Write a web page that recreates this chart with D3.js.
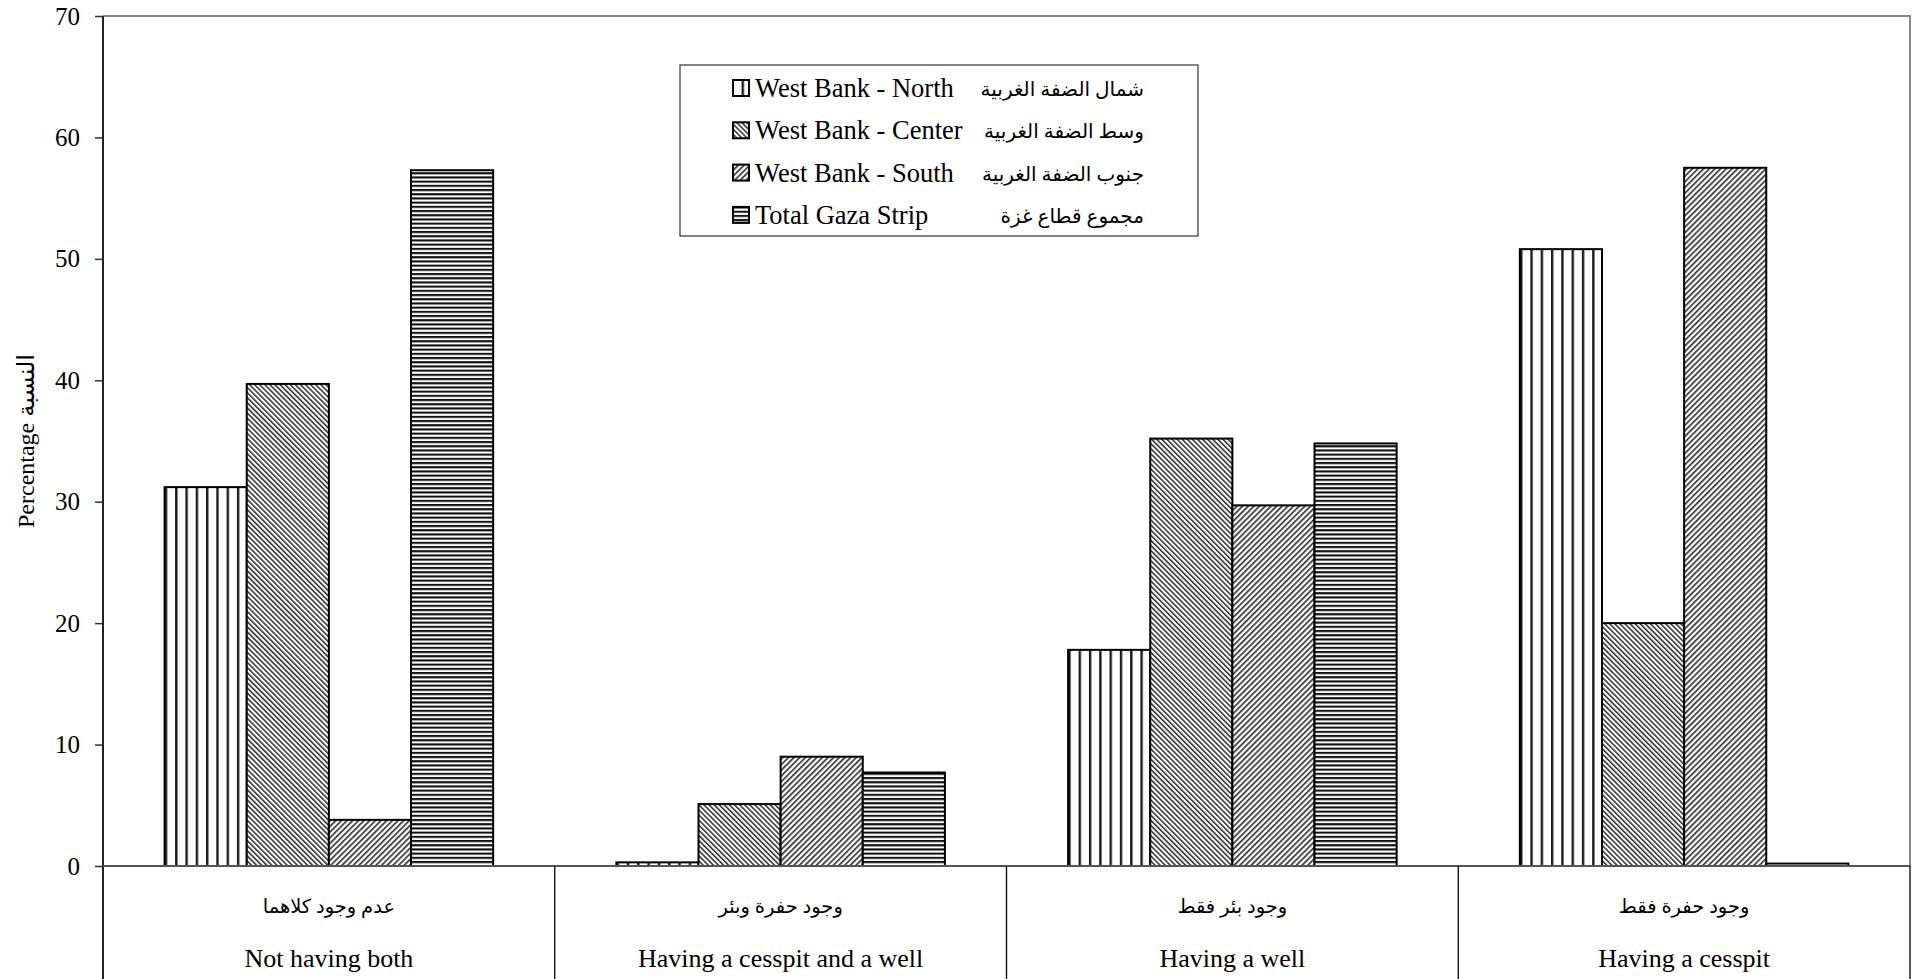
<!DOCTYPE html>
<html>
<head>
<meta charset="utf-8">
<script src="https://cdn.jsdelivr.net/npm/d3@7/dist/d3.min.js"></script>
<style>
  html, body { margin: 0; padding: 0; background: #fff; }
  svg { display: block; }
  text { font-family: "Liberation Serif", "Times New Roman", "DejaVu Sans", serif; fill: #000; }
</style>
</head>
<body>
<svg id="chart" width="1925" height="979"></svg>
<script>
// Household sewage disposal by region (percent)
const categoriesEn = ["Not having both", "Having a cesspit and a well", "Having a well", "Having a cesspit"];
const categoriesAr = ["عدم وجود كلاهما", "وجود حفرة وبئر", "وجود بئر فقط", "وجود حفرة فقط"];
const seriesEn = ["West Bank - North", "West Bank - Center", "West Bank - South", "Total Gaza Strip"];
const seriesAr = ["شمال الضفة الغربية", "وسط الضفة الغربية", "جنوب الضفة الغربية", "مجموع قطاع غزة"];
const northValues  = [31.2, 0.3, 17.8, 50.8];
const centerValues = [39.7, 5.1, 35.2, 20.0];
const southValues  = [3.8, 9.0, 29.7, 57.5];
const gazaValues   = [57.3, 7.7, 34.8, 0.2];
const yTicks = [0, 10, 20, 30, 40, 50, 60, 70];

const seriesValues = [northValues, centerValues, southValues, gazaValues];
const patternIds = ["pat-north", "pat-center", "pat-south", "pat-gaza"];

const svg = d3.select("#chart");
const plotLeft = 103, plotRight = 1910, plotTop = 16, plotBottom = 866;

// Hatch patterns for the monochrome bars
const defs = svg.append("defs");
function hatch(id, size, angle, lineW, color) {
  const p = defs.append("pattern")
    .attr("id", id)
    .attr("patternUnits", "userSpaceOnUse")
    .attr("width", size).attr("height", size)
    .attr("patternTransform", `rotate(${angle})`);
  p.append("rect").attr("width", size).attr("height", size).attr("fill", "#fff");
  p.append("rect").attr("x", 0).attr("y", 0)
    .attr("width", lineW).attr("height", size).attr("fill", color);
}
hatch("pat-north", 10.3, 0, 2.4, "#1a1a1a");
hatch("pat-center", 3.6, -45, 1.5, "#2a2a2a");
hatch("pat-south", 4.0, 45, 1.6, "#2a2a2a");
hatch("pat-gaza", 4.2, 90, 2.1, "#111");

const y = d3.scaleLinear().domain([0, 70]).range([plotBottom, plotTop]);
const x0 = d3.scaleBand().domain(categoriesEn).range([plotLeft, plotRight]).paddingInner(0).paddingOuter(0);
const x1 = d3.scaleBand().domain(seriesEn).range([0, x0.bandwidth()]).paddingInner(0).paddingOuter(0.75);

// Plot frame (top and right)
svg.append("path")
  .attr("d", `M${plotLeft},${plotTop}H${plotRight}V${plotBottom}`)
  .attr("fill", "none").attr("stroke", "#888").attr("stroke-width", 2);

// Bars
const groups = svg.append("g").selectAll("g")
  .data(categoriesEn)
  .join("g")
  .attr("transform", d => `translate(${x0(d)},0)`);

groups.selectAll("rect")
  .data((d, ci) => seriesEn.map((s, si) => ({ s, si, v: seriesValues[si][ci] })))
  .join("rect")
  .attr("x", d => x1(d.s))
  .attr("y", d => y(d.v))
  .attr("width", x1.bandwidth())
  .attr("height", d => y(0) - y(d.v))
  .attr("fill", d => `url(#${patternIds[d.si]})`)
  .attr("stroke", "#000")
  .attr("stroke-width", 2);

// Y axis
const yAxis = svg.append("g")
  .attr("transform", `translate(${plotLeft},0)`)
  .call(d3.axisLeft(y).tickValues(yTicks).tickSize(8).tickPadding(15).tickSizeOuter(0));
yAxis.select(".domain").remove();
yAxis.selectAll(".tick line").attr("stroke", "#333").attr("stroke-width", 1.5);
yAxis.selectAll(".tick text")
  .attr("font-family", "Liberation Serif, Times New Roman, serif")
  .attr("font-size", 25).attr("fill", "#000");

// Left axis line extending into the category area
svg.append("line")
  .attr("x1", plotLeft).attr("x2", plotLeft).attr("y1", plotTop).attr("y2", 979)
  .attr("stroke", "#222").attr("stroke-width", 2);

// Zero baseline
svg.append("line")
  .attr("x1", plotLeft).attr("x2", plotRight).attr("y1", y(0)).attr("y2", y(0))
  .attr("stroke", "#555").attr("stroke-width", 2);

// Category dividers below the baseline
svg.append("g").selectAll("line")
  .data(categoriesEn.slice(1).map(c => x0(c)).concat([plotRight]))
  .join("line")
  .attr("x1", d => d).attr("x2", d => d)
  .attr("y1", y(0)).attr("y2", 979)
  .attr("stroke", "#000").attr("stroke-width", 1.3);

// Category labels (Arabic above English)
const catLabels = svg.append("g");
catLabels.selectAll("text.ar")
  .data(categoriesAr)
  .join("text")
  .attr("class", "ar")
  .attr("x", (d, i) => x0(categoriesEn[i]) + x0.bandwidth() / 2)
  .attr("y", 913)
  .attr("text-anchor", "middle")
  .attr("font-size", 19.5)
  .text(d => d);
catLabels.selectAll("text.en")
  .data(categoriesEn)
  .join("text")
  .attr("class", "en")
  .attr("x", d => x0(d) + x0.bandwidth() / 2)
  .attr("y", 967)
  .attr("text-anchor", "middle")
  .attr("font-size", 26)
  .text(d => d);

// Y axis title
svg.append("text")
  .attr("transform", "translate(34,441) rotate(-90)")
  .attr("text-anchor", "middle")
  .attr("font-size", 24)
  .text("Percentage  النسبة");

// Legend
const legend = svg.append("g");
legend.append("rect")
  .attr("x", 680).attr("y", 65).attr("width", 518).attr("height", 171)
  .attr("fill", "#fff").attr("stroke", "#333").attr("stroke-width", 1.2);
const rows = legend.selectAll("g.row")
  .data(seriesEn)
  .join("g")
  .attr("class", "row")
  .attr("transform", (d, i) => `translate(0,${88 + i * 42.3})`);
rows.append("rect")
  .attr("x", 733).attr("y", -8).attr("width", 16).attr("height", 16)
  .attr("fill", (d, i) => `url(#${patternIds[i]})`)
  .attr("stroke", "#000").attr("stroke-width", 2);
rows.append("text")
  .attr("x", 755).attr("y", 9)
  .attr("font-size", 26.5)
  .text(d => d);
rows.append("text")
  .attr("x", 1144).attr("y", 8)
  .attr("text-anchor", "end")
  .attr("font-size", 20)
  .text((d, i) => seriesAr[i]);
</script>
</body>
</html>
